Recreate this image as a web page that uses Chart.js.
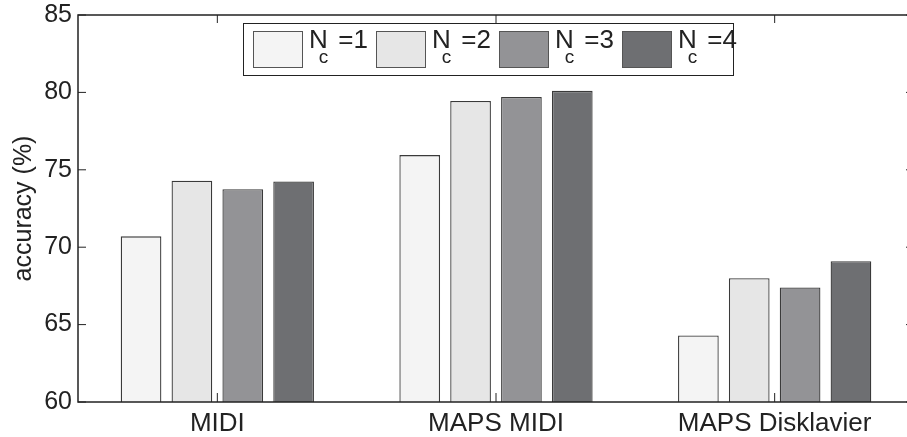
<!DOCTYPE html>
<html>
<head>
<meta charset="utf-8">
<script src="https://cdn.jsdelivr.net/npm/chart.js@4/dist/chart.umd.min.js"></script>
<style>
  html, body { margin: 0; padding: 0; background: #fff; overflow: hidden; width: 907px; height: 437px; }
  #wrap { position: relative; width: 916px; height: 437px; }
  #legend {
    position: absolute; left: 243px; top: 23px; width: 489px; height: 51px;
    border: 1.5px solid #222; background: #fff; box-sizing: content-box;
    font-family: "Liberation Sans", Arial, sans-serif; color: #222;
  }
  .item { position: absolute; top: 0; height: 51px; }
  .sw { position: absolute; top: 7px; width: 48px; height: 35px; border: 1px solid #555; }
  .lab { position: absolute; top: 2px; font-size: 26px; white-space: nowrap; line-height: 26px; }
  .lab .sub { position: relative; font-size: 19px; top: 15px; margin-left: -9px; margin-right: 10px; }
</style>
</head>
<body>
<div id="wrap">
  <canvas id="c"></canvas>
  <div id="legend"></div>
</div>
<script>
const categories = ['MIDI', 'MAPS MIDI', 'MAPS Disklavier'];
const seriesNames = ['N_c=1', 'N_c=2', 'N_c=3', 'N_c=4'];
const nc1 = [70.7, 75.95, 64.3];
const nc2 = [74.3, 79.45, 68.0];
const nc3 = [73.75, 79.7, 67.4];
const nc4 = [74.25, 80.1, 69.1];
const yTicks = [60, 65, 70, 75, 80, 85];
const seriesValues = [nc1, nc2, nc3, nc4];
const seriesColors = ['#f4f4f4', '#e6e6e6', '#939396', '#6e6f72'];

const axisColor = '#222';
const fontFamily = '"Liberation Sans", Arial, Helvetica, sans-serif';

const framePlugin = {
  id: 'frame',
  afterDraw(chart) {
    const { ctx, chartArea: a, scales } = chart;
    const tl = 8;
    ctx.save();
    ctx.strokeStyle = axisColor;
    ctx.lineWidth = 1.5;
    ctx.strokeRect(a.left, a.top, a.right - a.left, a.bottom - a.top);
    ctx.lineWidth = 1;
    ctx.beginPath();
    yTicks.forEach(v => {
      const y = scales.y.getPixelForValue(v);
      ctx.moveTo(a.left, y); ctx.lineTo(a.left + tl, y);
      ctx.moveTo(a.right, y); ctx.lineTo(a.right - tl, y);
    });
    categories.forEach((c, i) => {
      const x = scales.x.getPixelForValue(i);
      ctx.moveTo(x, a.bottom); ctx.lineTo(x, a.bottom - tl - 1);
      ctx.moveTo(x, a.top); ctx.lineTo(x, a.top + tl);
    });
    ctx.stroke();
    ctx.restore();
  }
};

new Chart(document.getElementById('c'), {
  type: 'bar',
  data: {
    labels: categories,
    datasets: seriesValues.map((vals, i) => ({
      label: seriesNames[i],
      data: vals,
      backgroundColor: seriesColors[i],
      borderColor: '#3a3a3a',
      borderWidth: 1.3,
      categoryPercentage: 0.73,
      barPercentage: 0.8
    }))
  },
  options: {
    responsive: true,
    maintainAspectRatio: false,
    animation: false,
    events: [],
    layout: { padding: { left: 9, right: 2, top: 15, bottom: 0 } },
    plugins: { legend: { display: false }, tooltip: { enabled: false } },
    scales: {
      x: {
        offset: true,
        grid: { display: false, drawTicks: false },
        border: { display: false },
        ticks: { color: axisColor, font: { family: fontFamily, size: 26 }, padding: 6, maxRotation: 0 },
        afterFit(s) { s.height = 35; }
      },
      y: {
        min: 60, max: 85,
        afterBuildTicks(s) { s.ticks = yTicks.map(v => ({ value: v })); },
        grid: { display: false, drawTicks: false },
        border: { display: false },
        ticks: { color: axisColor, font: { family: fontFamily, size: 25, lineHeight: 0.6 }, padding: 6 },
        title: { display: true, text: 'accuracy (%)', color: axisColor, font: { family: fontFamily, size: 25 }, padding: { top: 0, bottom: 0 } },
        afterFit(s) { s.width = 69; }
      }
    }
  },
  plugins: [framePlugin]
});

// legend built from series names
const leg = document.getElementById('legend');
seriesNames.forEach((name, i) => {
  const parts = name.split('_');
  const main = parts[0];
  const sub = parts[1].charAt(0);
  const rest = parts[1].slice(1);
  const item = document.createElement('div');
  item.className = 'item';
  item.style.left = (9 + i * 123) + 'px';
  const sw = document.createElement('div');
  sw.className = 'sw';
  sw.style.left = '0px';
  sw.style.background = seriesColors[i];
  const lab = document.createElement('div');
  lab.className = 'lab';
  lab.style.left = '56px';
  const m = document.createElement('span'); m.textContent = main;
  const s = document.createElement('span'); s.className = 'sub'; s.textContent = sub;
  const r = document.createElement('span'); r.textContent = rest;
  lab.appendChild(m); lab.appendChild(s); lab.appendChild(r);
  item.appendChild(sw); item.appendChild(lab);
  leg.appendChild(item);
});
</script>
</body>
</html>
